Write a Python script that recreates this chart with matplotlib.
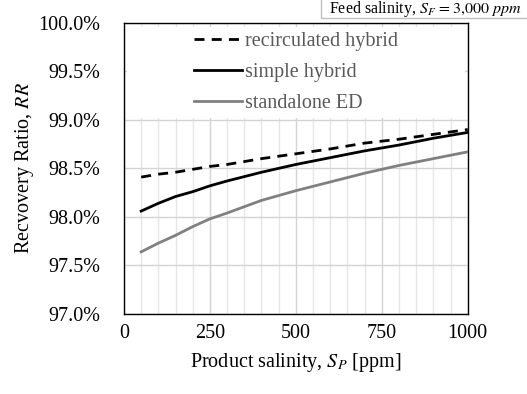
import numpy as np
import matplotlib.pyplot as plt
from matplotlib.patches import Rectangle
from matplotlib.ticker import MultipleLocator, FuncFormatter

plt.rcParams['font.family'] = ['Liberation Serif', 'DejaVu Serif']
plt.rcParams['mathtext.fontset'] = 'stix'

# data
product_salinity = [50, 100, 150, 200, 250, 300, 400, 500, 600, 700, 800, 900, 1000]
rr_recirculated = [98.41, 98.44, 98.46, 98.49, 98.52, 98.54, 98.60, 98.65, 98.70, 98.76, 98.80, 98.85, 98.90]
rr_simple = [98.06, 98.14, 98.21, 98.26, 98.32, 98.37, 98.46, 98.54, 98.61, 98.68, 98.74, 98.81, 98.87]
rr_standalone = [97.64, 97.73, 97.81, 97.90, 97.98, 98.04, 98.17, 98.27, 98.36, 98.45, 98.53, 98.60, 98.67]
series_names = ['recirculated hybrid', 'simple hybrid', 'standalone ED']

fig = plt.figure(figsize=(5.27, 3.94), dpi=100)
ax = fig.add_axes([0.2353, 0.203, 0.6522, 0.7394])

ax.plot(product_salinity, rr_recirculated, color='black', lw=2.0, dashes=(3.6, 2.6),
        label=series_names[0], zorder=3)
ax.plot(product_salinity, rr_simple, color='black', lw=2.0, label=series_names[1], zorder=3)
ax.plot(product_salinity, rr_standalone, color='#808080', lw=2.0, label=series_names[2], zorder=3)

ax.set_xlim(0, 1000)
ax.set_ylim(97.0, 100.0)
ax.xaxis.set_major_locator(MultipleLocator(250))
ax.xaxis.set_minor_locator(MultipleLocator(50))
ax.yaxis.set_major_locator(MultipleLocator(0.5))
ax.yaxis.set_major_formatter(FuncFormatter(lambda v, p: '%.1f%%' % v))

ax.set_axisbelow(True)
ax.grid(True, which='major', color='#D4D4D4', lw=1.0)
ax.grid(True, which='minor', axis='x', color='#E6E6E6', lw=1.0)
ax.tick_params(which='both', length=0, labelsize=14.5, colors='black')
ax.tick_params(axis='y', pad=17)
ax.tick_params(axis='x', pad=7)
for s in ax.spines.values():
    s.set_color('black')
    s.set_linewidth(1.0)

# white box behind the legend, hides the grid there
ax.add_patch(Rectangle((0.009, 0.673), 0.983, 0.313, transform=ax.transAxes,
                       facecolor='white', edgecolor='none', zorder=1))

leg = ax.legend(loc='upper center', bbox_to_anchor=(0.5, 1.014), frameon=False,
                fontsize=14.5, handlelength=2.4, handletextpad=0.15, labelspacing=0.6,
                borderaxespad=0.25)
for t in leg.get_texts():
    t.set_color('#595959')

ax.set_xlabel(r'Product salinity, $S_P$ [ppm]', fontsize=14.5, labelpad=6)
ax.set_ylabel(r'Recvovery Ratio, $\mathit{RR}$', fontsize=14.5, labelpad=2)

# feed salinity note, top right
fig.patches.append(Rectangle((0.609, 0.9536), 0.40, 0.06, transform=fig.transFigure,
                             facecolor='white', edgecolor='#BFBFBF', lw=1.0))
fig.text(0.806, 0.976, r'Feed salinity, $S_F\,=3{,}000\ ppm$', fontsize=11.5,
         ha='center', va='center')

plt.savefig('out.png', dpi=100)
